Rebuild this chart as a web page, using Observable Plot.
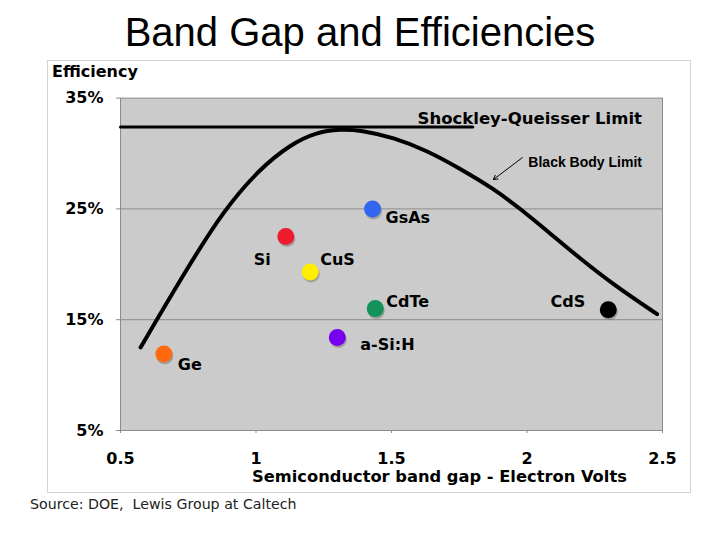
<!DOCTYPE html>
<html>
<head>
<meta charset="utf-8">
<script src="https://cdn.jsdelivr.net/npm/d3@7"></script>
<script src="https://cdn.jsdelivr.net/npm/@observablehq/plot@0.6"></script>
<style>
  html, body { margin: 0; padding: 0; background: #fff; }
  #page { position: relative; width: 720px; height: 540px; overflow: hidden; }
  .abs { position: absolute; white-space: pre; }
  #title { left: 0; width: 720px; top: 10px; text-align: center; font: 40px "Liberation Sans", Arial, sans-serif; color: #000; }
  #panel { left: 47px; top: 60px; width: 642px; height: 431px; border: 1px solid #d4d4d4; }
  #ylab { left: 52px; top: 62px; font: bold 16px "DejaVu Sans", sans-serif; }
  #xlab { left: 252px; top: 467px; font: bold 16.3px "DejaVu Sans", sans-serif; }
  #source { left: 30px; top: 496px; font: 14.2px "DejaVu Sans", sans-serif; color: #222; }
  #chart { position: absolute; left: 0; top: 0; }
</style>
</head>
<body>
<div id="page">
  <div id="panel" class="abs"></div>
  <div id="title" class="abs">Band Gap and Efficiencies</div>
  <div id="chart"></div>
  <div id="ylab" class="abs">Efficiency</div>
  <div id="xlab" class="abs">Semiconductor band gap - Electron Volts</div>
  <div id="source" class="abs">Source: DOE,  Lewis Group at Caltech</div>
</div>
<script>
// ---- data ----
const materials = ["Ge", "Si", "CuS", "GsAs", "CdTe", "a-Si:H", "CdS"];
const bandGap = [0.66, 1.11, 1.20, 1.43, 1.44, 1.30, 2.30];
const efficiency = [11.9, 22.5, 19.3, 25.0, 16.0, 13.4, 15.9];
const materialColors = ["#ff6a10", "#ee1c2e", "#ffee00", "#3366ee", "#13925a", "#7700ee", "#000000"];

const blackBodyGap = [0.574, 0.740, 0.881, 1.017, 1.127, 1.22, 1.312, 1.386, 1.507, 1.632, 1.755, 1.878, 1.976, 2.075, 2.197, 2.320, 2.480];
const blackBodyEff = [12.5, 19.4, 24.9, 28.7, 30.8, 31.9, 32.2, 32.1, 31.45, 30.25, 28.6, 26.8, 25.0, 23.0, 20.5, 18.15, 15.5];

const sqGap = [0.5, 1.80];
const sqEff = [32.4, 32.4];

const xTicks = [0.5, 1, 1.5, 2, 2.5];
const yTicks = [5, 15, 25, 35];
const yGrid = [15, 25];

const sqLabel = "Shockley-Queisser Limit";
const bbLabel = "Black Body Limit";
const sqLabelPos = [1.596, 33.1];
const bbLabelPos = [2.005, 29.2];
const bbArrow = [1.983, 29.63, 1.876, 27.65];

// ---- tables built from arrays ----
const points = materials.map((m, i) => ({name: m, x: bandGap[i], y: efficiency[i], color: materialColors[i]}));
const bb = blackBodyGap.map((g, i) => ({x: g, y: blackBodyEff[i]}));
const sq = sqGap.map((g, i) => ({x: g, y: sqEff[i]}));

// label layout (offsets in px, anchor)
const labelLayout = {
  "Ge": [14, 11, "start"],
  "Si": [-15, 23, "end"],
  "CuS": [10, -12, "start"],
  "GsAs": [13, 9, "start"],
  "CdTe": [11, -7, "start"],
  "a-Si:H": [23, 7, "start"],
  "CdS": [-23, -8, "end"]
};

const font = "DejaVu Sans, sans-serif";

const labelMarks = points.map(p => {
  const [dx, dy, anchor] = labelLayout[p.name];
  return Plot.text([p], {x: "x", y: "y", text: "name", dx, dy, textAnchor: anchor,
    fontSize: 16, fontWeight: "bold", fontFamily: font, fill: "#000"});
});

const chart = Plot.plot({
  width: 720,
  height: 540,
  marginLeft: 120,
  marginRight: 58,
  marginTop: 97.6,
  marginBottom: 110,
  style: {background: "transparent", overflow: "visible"},
  x: {domain: [0.5, 2.5]},
  y: {domain: [5, 35]},
  marks: [
    Plot.frame({fill: "#cbcbcb", stroke: "none"}),
    Plot.ruleY(yGrid, {stroke: "#8c8c8c", strokeWidth: 1}),
    Plot.frame({stroke: "#8c8c8c", strokeWidth: 1}),
    Plot.axisX(xTicks, {tickSize: 3, tickPadding: 19, stroke: "#8c8c8c", tickFormat: d => String(d),
      fontSize: 16, fontWeight: "bold", fontFamily: font, fill: "#000", label: null}),
    Plot.axisY(yTicks, {tickSize: 4, tickPadding: 13, stroke: "#8c8c8c", tickFormat: d => d + "%",
      fontSize: 16, fontWeight: "bold", fontFamily: font, fill: "#000", label: null}),
    Plot.line(sq, {x: "x", y: "y", stroke: "#000", strokeWidth: 3}),
    Plot.line(bb, {x: "x", y: "y", stroke: "#000", strokeWidth: 4, curve: "basis"}),
    Plot.text([sqLabel], {x: sqLabelPos[0], y: sqLabelPos[1], text: d => d, textAnchor: "start",
      fontSize: 16.5, fontWeight: "bold", fontFamily: font, fill: "#000"}),
    Plot.text([bbLabel], {x: bbLabelPos[0], y: bbLabelPos[1], text: d => d, textAnchor: "start",
      fontSize: 14, fontWeight: "bold", fontFamily: "Liberation Sans, Arial, sans-serif", fill: "#000"}),
    Plot.arrow([bbArrow], {x1: d => d[0], y1: d => d[1], x2: d => d[2], y2: d => d[3],
      stroke: "#000", strokeWidth: 1, headLength: 7}),
    Plot.dot(points, {x: "x", y: "y", r: 8.5, fill: "#7a7a7a", fillOpacity: 0.55, dx: 1, dy: 2}),
    Plot.dot(points, {x: "x", y: "y", r: 8.5, fill: "color"}),
    ...labelMarks
  ]
});
document.getElementById("chart").appendChild(chart);
</script>
</body>
</html>
